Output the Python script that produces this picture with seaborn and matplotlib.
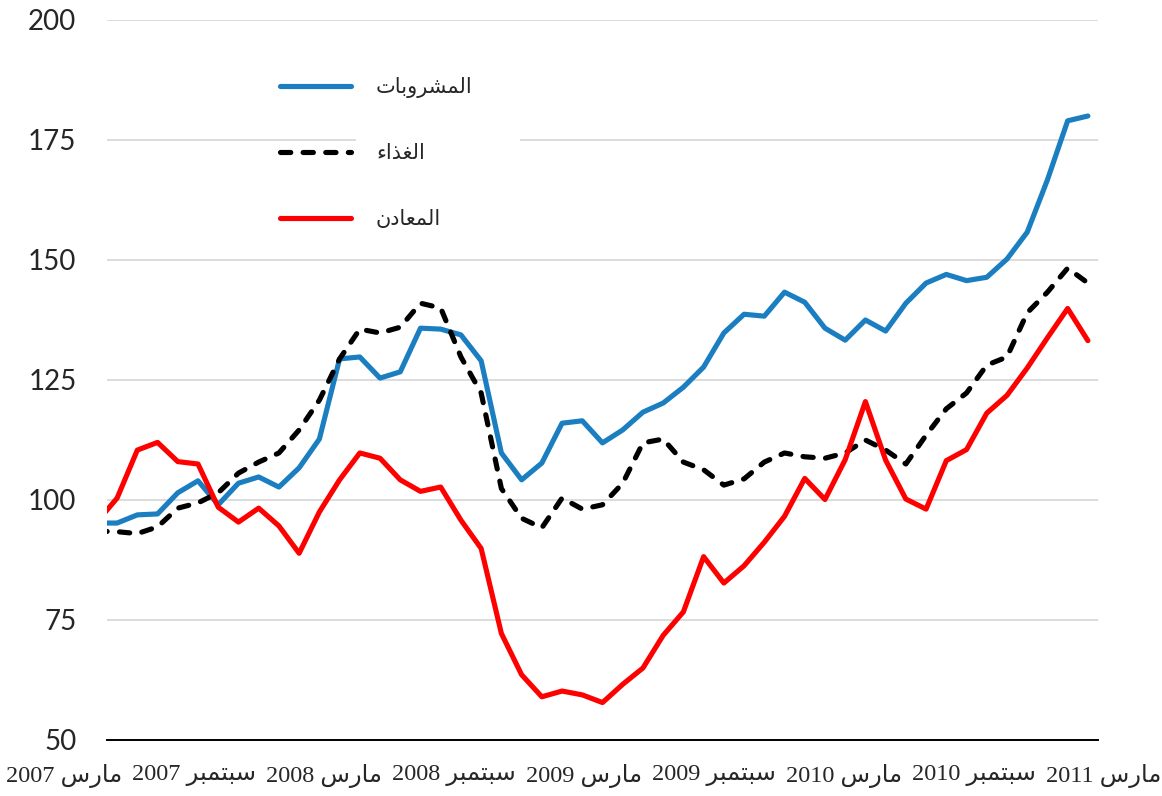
import numpy as np
import pandas as pd
import matplotlib
matplotlib.use("Agg")
import matplotlib.pyplot as plt
import seaborn as sns
from matplotlib.lines import Line2D
from matplotlib.patches import Rectangle

# monthly index values (first value sits just left of the axis, March 2007 onwards after it)
beverages = [95.2, 95.2, 96.9, 97.1, 101.5, 104.0, 99.0, 103.5, 104.8, 102.7,
             106.7, 112.7, 129.4, 129.8, 125.4, 126.7, 135.8, 135.6, 134.4, 129.0,
             109.8, 104.2, 107.7, 116.0, 116.5, 111.9, 114.6, 118.3, 120.2, 123.5,
             127.7, 134.8, 138.7, 138.3, 143.3, 141.2, 135.8, 133.3, 137.5, 135.2,
             141.0, 145.2, 147.0, 145.7, 146.4, 150.2, 155.8, 166.7, 179.0, 180.0]
food = [93.5, 93.4, 93.0, 94.4, 98.3, 99.4, 101.5, 105.6, 107.9, 109.8,
        114.6, 120.8, 129.4, 135.6, 134.8, 136.0, 141.0, 140.0, 129.8, 122.3,
        102.4, 96.2, 94.2, 100.4, 98.1, 99.0, 103.5, 111.9, 112.7, 107.9,
        106.3, 103.1, 104.4, 107.9, 109.8, 109.0, 108.7, 109.8, 112.5, 110.4,
        107.5, 113.5, 119.0, 122.3, 128.1, 129.8, 139.0, 143.3, 148.3, 145.2]
metals = [95.4, 100.4, 110.4, 112.0, 108.0, 107.5, 98.5, 95.4, 98.3, 94.6,
          88.9, 97.5, 104.2, 109.8, 108.7, 104.2, 101.8, 102.7, 95.8, 89.9,
          72.2, 63.6, 59.0, 60.2, 59.4, 57.8, 61.6, 65.0, 71.8, 76.7,
          88.2, 82.7, 86.3, 91.2, 96.6, 104.5, 100.1, 108.4, 120.5, 108.3,
          100.2, 98.1, 108.2, 110.5, 118.1, 121.8, 127.5, 133.8, 139.9, 133.2]

series_names = ["المشروبات", "الغذاء", "المعادن"]
series_colors = ["#1A7EC1", "#000000", "#FF0000"]
tick_months = ["مارس", "سبتمبر", "مارس", "سبتمبر", "مارس", "سبتمبر", "مارس", "سبتمبر", "مارس"]
tick_years = [2007, 2007, 2008, 2008, 2009, 2009, 2010, 2010, 2011]

# matplotlib does no Arabic shaping, so pick presentation forms and reverse by hand
FORMS = {
    'ا': ('\uFE8D', '\uFE8E', None, None),
    'ب': ('\uFE8F', '\uFE90', '\uFE91', '\uFE92'),
    'ت': ('\uFE95', '\uFE96', '\uFE97', '\uFE98'),
    'د': ('\uFEA9', '\uFEAA', None, None),
    'ذ': ('\uFEAB', '\uFEAC', None, None),
    'ر': ('\uFEAD', '\uFEAE', None, None),
    'س': ('\uFEB1', '\uFEB2', '\uFEB3', '\uFEB4'),
    'ش': ('\uFEB5', '\uFEB6', '\uFEB7', '\uFEB8'),
    'ع': ('\uFEC9', '\uFECA', '\uFECB', '\uFECC'),
    'غ': ('\uFECD', '\uFECE', '\uFECF', '\uFED0'),
    'ل': ('\uFEDD', '\uFEDE', '\uFEDF', '\uFEE0'),
    'م': ('\uFEE1', '\uFEE2', '\uFEE3', '\uFEE4'),
    'ن': ('\uFEE5', '\uFEE6', '\uFEE7', '\uFEE8'),
    'و': ('\uFEED', '\uFEEE', None, None),
    'ء': ('\uFE80', None, None, None),
}


def shape(word):
    out = []
    for i, c in enumerate(word):
        iso, fin, ini, med = FORMS[c]
        prev = word[i - 1] if i > 0 else None
        nxt = word[i + 1] if i + 1 < len(word) else None
        jp = prev is not None and FORMS[prev][2] is not None and fin is not None
        jn = nxt is not None and ini is not None and FORMS[nxt][1] is not None
        if jp and jn:
            g = med
        elif jp:
            g = fin
        elif jn:
            g = ini
        else:
            g = iso
        out.append(g)
    return "".join(reversed(out))


months = np.arange(len(beverages))
df = pd.concat([
    pd.DataFrame({"month": months, "value": vals, "series": name})
    for name, vals in zip(series_names, [beverages, food, metals])
])

sns.set_style("white")
plt.rcParams["font.family"] = ["DejaVu Sans"]

W, H = 1162, 796
fig = plt.figure(figsize=(W / 100, H / 100), dpi=100)
ax = fig.add_axes([107 / W, 56 / H, 991 / W, 720 / H])

lw = 3.7
sns.lineplot(data=df, x="month", y="value", hue="series", style="series",
             hue_order=series_names, style_order=series_names,
             palette=series_colors,
             dashes={series_names[0]: "", series_names[1]: (2, 2.4), series_names[2]: ""},
             linewidth=lw, legend=False, ax=ax,
             solid_capstyle="round", dash_capstyle="round", solid_joinstyle="round")

ax.set_xlim(0.5, 49.5)
ax.set_ylim(50, 200)
ax.set_yticks(np.arange(50, 201, 25))
ax.set_xticks(0.5 + 6 * np.arange(9))
ax.set_xticklabels([])
ax.set_xlabel("")
ax.set_ylabel("")

ax.yaxis.grid(True, color="#D9D9D9", lw=1.3)
ax.set_axisbelow(True)
for s in ["top", "right", "left"]:
    ax.spines[s].set_visible(False)
ax.spines["bottom"].set_color("black")
ax.spines["bottom"].set_linewidth(1.4)
ax.tick_params(axis="x", direction="in", length=9, width=1.2, color="black")
ax.tick_params(axis="y", length=0, pad=22, labelsize=20)
for t in ax.get_yticklabels():
    t.set_fontfamily(["Lato", "DejaVu Sans"])

for i, (m, y) in enumerate(zip(tick_months, tick_years)):
    fig.text((64 + 130 * i) / W, 1 - 776 / H, f"{y} {shape(m)}",
             ha="center", va="center", fontsize=17.5,
             family=["Liberation Serif", "DejaVu Sans"])

# white patch behind the legend text (hides the 175 grid line there)
ax.add_patch(Rectangle((356 / W, 1 - 240 / H), 164 / W, 180 / H,
                       transform=fig.transFigure, facecolor="white",
                       edgecolor="none", zorder=1.5))

handles = [
    Line2D([], [], color=series_colors[0], lw=lw, solid_capstyle="round"),
    Line2D([], [], color=series_colors[1], lw=lw, dashes=(2, 2.4), dash_capstyle="round"),
    Line2D([], [], color=series_colors[2], lw=lw, solid_capstyle="round"),
]
ax.legend(handles, [shape(n) for n in series_names], loc="upper left",
          bbox_to_anchor=(280 / W, 1 - 77 / H), bbox_transform=fig.transFigure,
          frameon=False, prop={"family": "DejaVu Sans", "size": 15},
          handlelength=3.4, handletextpad=1.2, labelspacing=2.18,
          borderpad=0, borderaxespad=0)

fig.savefig("out.png", dpi=100)
plt.close(fig)
